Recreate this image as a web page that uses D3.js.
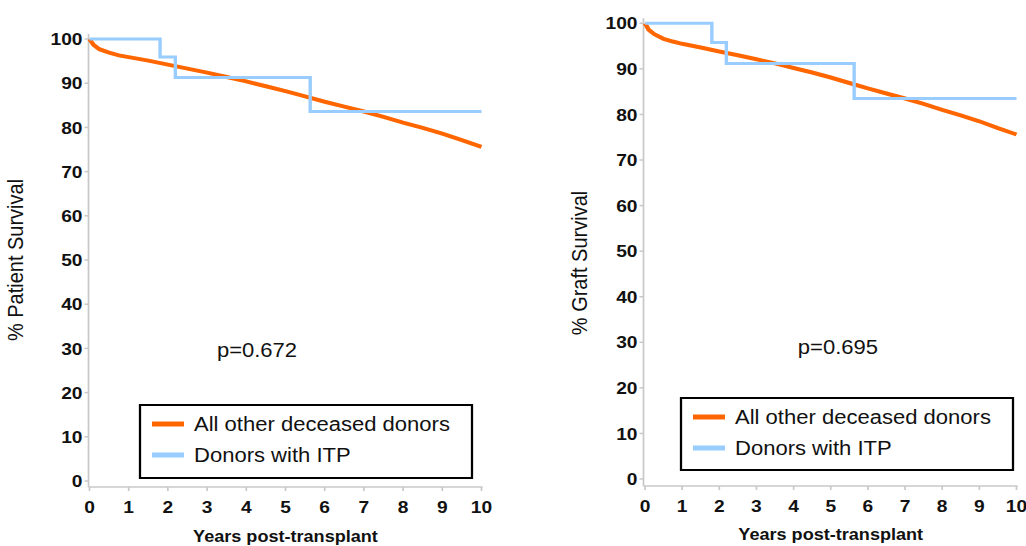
<!DOCTYPE html>
<html>
<head>
<meta charset="utf-8">
<script src="https://cdn.jsdelivr.net/npm/d3@7"></script>
<style>
  html, body { margin: 0; padding: 0; background: #fff; }
  svg { display: block; }
  text { font-family: Arial, "Liberation Sans", sans-serif; fill: #111; }
</style>
</head>
<body>
<div id="chart"></div>
<script>
// years for the smooth Kaplan-Meier curve of all other deceased donors
const curveYears = [0, 0.1, 0.25, 0.5, 0.75, 1, 1.5, 2, 2.5, 3, 3.5, 4, 4.5, 5,
  5.5, 6, 6.5, 7, 7.5, 8, 8.5, 9, 9.5, 10];
const otherPatient = [100, 98.7, 97.7, 96.9, 96.3, 95.9, 95.1, 94.2, 93.3, 92.4,
  91.4, 90.4, 89.3, 88.2, 87.0, 85.8, 84.7, 83.6, 82.4, 81.1, 79.9, 78.6, 77.1, 75.6];
const otherGraft = [100, 98.6, 97.6, 96.6, 96.0, 95.5, 94.7, 93.8, 93.0, 92.1,
  91.2, 90.2, 89.2, 88.1, 86.9, 85.7, 84.6, 83.5, 82.3, 81.0, 79.8, 78.5, 77.0, 75.6];

// step curve for donors with ITP
const itpYears = [0, 1.8, 2.19, 5.63, 10];
const itpPatient = [100, 95.9, 91.3, 83.6, 83.6];
const itpGraft = [100, 95.8, 91.2, 83.5, 83.5];

const xTicks = d3.range(0, 11);
const yTicks = d3.range(0, 101, 10);
const seriesNames = ['All other deceased donors', 'Donors with ITP'];
const colors = ['#ff6600', '#99ccff'];

const W = 1026, H = 546;
const SX = 1.13; // the source picture is stretched horizontally
const sx = v => v / SX;

const svg = d3.select('#chart').append('svg')
  .attr('width', W).attr('height', H)
  .attr('viewBox', `0 0 ${W / SX} ${H}`)
  .attr('preserveAspectRatio', 'none');

const panels = [
  {
    yTitle: '% Patient Survival', p: 'p=0.672',
    other: otherPatient, itp: itpPatient,
    x0: 89.5, x1: 481.5, yTop: 39, yBot: 481, axisX: 88.5, axisY: 487,
    yTitleX: 23, yTitleY: 260, xTitleY: 542, pX: 257, pY: 357,
    legend: { x: 140, y: 405, w: 332, h: 73 }
  },
  {
    yTitle: '% Graft Survival', p: 'p=0.695',
    other: otherGraft, itp: itpGraft,
    x0: 645, x1: 1016.5, yTop: 23.3, yBot: 479, axisX: 643.5, axisY: 486,
    yTitleX: 587, yTitleY: 263, xTitleY: 540, pX: 838, pY: 354,
    legend: { x: 681, y: 398, w: 332, h: 72 }
  }
];

panels.forEach(pn => {
  const g = svg.append('g');
  const x = d3.scaleLinear().domain([0, 10]).range([sx(pn.x0), sx(pn.x1)]);
  const y = d3.scaleLinear().domain([0, 100]).range([pn.yBot, pn.yTop]);
  const ax = sx(pn.axisX);

  // axes lines
  g.append('line').attr('x1', ax).attr('x2', ax)
    .attr('y1', pn.yTop - 5).attr('y2', pn.axisY)
    .attr('stroke', '#c8c8c8').attr('stroke-width', 1.5);
  g.append('line').attr('x1', ax).attr('x2', x(10) + sx(1))
    .attr('y1', pn.axisY).attr('y2', pn.axisY)
    .attr('stroke', '#c8c8c8').attr('stroke-width', 1.5);

  // y ticks
  yTicks.forEach(t => {
    g.append('line').attr('x1', ax - sx(4)).attr('x2', ax)
      .attr('y1', y(t)).attr('y2', y(t))
      .attr('stroke', '#c8c8c8').attr('stroke-width', 1.5);
    g.append('text').attr('x', ax - sx(6)).attr('y', y(t)).attr('dy', '0.36em')
      .attr('text-anchor', 'end').attr('font-size', 17).attr('font-weight', 'bold')
      .text(t);
  });

  // x ticks
  xTicks.forEach(t => {
    g.append('line').attr('x1', x(t)).attr('x2', x(t))
      .attr('y1', pn.axisY).attr('y2', pn.axisY + 4)
      .attr('stroke', '#c8c8c8').attr('stroke-width', 1.5);
    g.append('text').attr('x', x(t)).attr('y', pn.axisY + 26)
      .attr('text-anchor', 'middle').attr('font-size', 17).attr('font-weight', 'bold')
      .text(t);
  });

  g.append('text').attr('x', (x(0) + x(10)) / 2).attr('y', pn.xTitleY)
    .attr('text-anchor', 'middle').attr('font-size', 16).attr('font-weight', 'bold')
    .text('Years post-transplant');

  g.append('text')
    .attr('transform', `translate(${sx(pn.yTitleX)},${pn.yTitleY}) rotate(-90)`)
    .attr('text-anchor', 'middle').attr('font-size', 20)
    .text(pn.yTitle);

  // curves
  const line = d3.line().x(d => x(d[0])).y(d => y(d[1]));
  g.append('path')
    .datum(curveYears.map((yr, i) => [yr, pn.other[i]]))
    .attr('d', line)
    .attr('fill', 'none').attr('stroke', colors[0]).attr('stroke-width', 4);
  g.append('path')
    .datum(itpYears.map((yr, i) => [yr, pn.itp[i]]))
    .attr('d', line.curve(d3.curveStepAfter))
    .attr('fill', 'none').attr('stroke', colors[1]).attr('stroke-width', 3);

  g.append('text').attr('x', sx(pn.pX)).attr('y', pn.pY)
    .attr('text-anchor', 'middle').attr('font-size', 19.5)
    .text(pn.p);

  // legend
  const L = pn.legend;
  const lg = g.append('g');
  lg.append('rect').attr('x', sx(L.x)).attr('y', L.y)
    .attr('width', sx(L.w)).attr('height', L.h)
    .attr('fill', '#fff').attr('stroke', '#000').attr('stroke-width', 2);
  seriesNames.forEach((name, i) => {
    const cy = L.y + 19 + i * 31;
    lg.append('line').attr('x1', sx(L.x + 12)).attr('x2', sx(L.x + 44))
      .attr('y1', cy).attr('y2', cy)
      .attr('stroke', colors[i]).attr('stroke-width', 5);
    lg.append('text').attr('x', sx(L.x + 54)).attr('y', cy).attr('dy', '0.36em')
      .attr('font-size', 19.5).text(name);
  });
});
</script>
</body>
</html>
